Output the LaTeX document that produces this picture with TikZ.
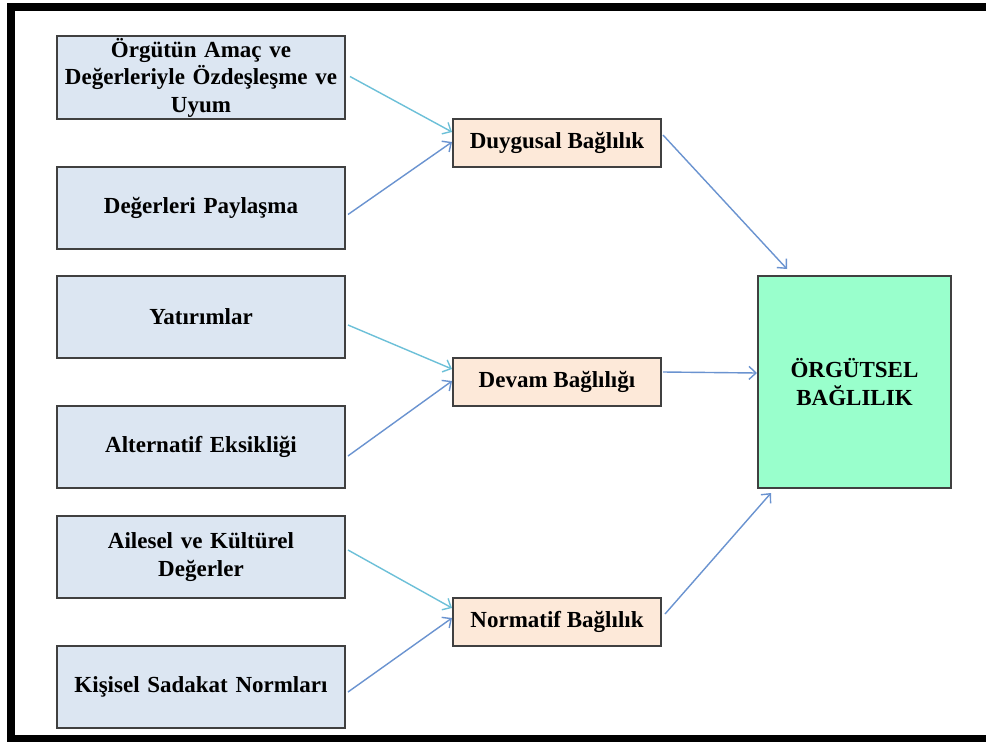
\documentclass[tikz,border=0pt]{standalone}
\usepackage{fontspec}
\setmainfont{Liberation Serif}
\usetikzlibrary{arrows.meta,calc}
\definecolor{leftfill}{HTML}{DCE6F2}
\definecolor{midfill}{HTML}{FDE9D9}
\definecolor{bigfill}{HTML}{99FFCC}
\definecolor{boxline}{HTML}{404040}
\definecolor{cyanarrow}{HTML}{6CC0D8}
\definecolor{bluearrow}{HTML}{6A93D0}
\tikzset{
  base/.style={draw=boxline, line width=2pt, align=center, inner sep=2pt,
    font=\fontsize{23}{27.5}\selectfont\bfseries},
  leftbox/.style={base, fill=leftfill, minimum width=288pt, minimum height=82pt, text width=284pt},
  midbox/.style={base, fill=midfill, minimum width=208pt, minimum height=48pt},
  bigbox/.style={base, fill=bigfill, minimum width=193pt, minimum height=212pt},
  conn/.style={line width=1.4pt, -{Straight Barb[length=7pt,width=13pt,line width=1.4pt]}},
  cyanconn/.style={conn, draw=cyanarrow},
  blueconn/.style={conn, draw=bluearrow}
}
\begin{document}
\begin{tikzpicture}[x=1pt,y=-1pt]
\useasboundingbox (0,0) rectangle (986,742);
\begin{scope}
\clip (0,0) rectangle (986,742);
\fill[white] (0,0) rectangle (986,742);
\draw[line width=8pt] (11,7) rectangle (1010,739);
\end{scope}

\node[leftbox] (b1) at (201,77.5) {Örgütün Amaç ve\\Değerleriyle Özdeşleşme ve\\Uyum};
\node[leftbox] (b2) at (201,207.5) {Değerleri Paylaşma};
\node[leftbox] (b3) at (201,317) {Yatırımlar};
\node[leftbox] (b4) at (201,447) {Alternatif Eksikliği};
\node[leftbox] (b5) at (201,557) {Ailesel ve Kültürel\\Değerler};
\node[leftbox] (b6) at (201,687) {Kişisel Sadakat Normları};

\node[midbox] (m1) at (557,143) {Duygusal Bağlılık};
\node[midbox] (m2) at (557,382) {Devam Bağlılığı};
\node[midbox] (m3) at (557,622) {Normatif Bağlılık};

\node[bigbox] (big) at (854.5,382) {ÖRGÜTSEL\\BAĞLILIK};

\draw[cyanconn] ($(b1.east)+(4,-1)$) -- ($(m1.west)+(0,-11)$);
\draw[blueconn] ($(b2.east)+(2,7)$) -- ($(m1.west)+(0,-1)$);
\draw[cyanconn] ($(b3.east)+(2,8)$) -- ($(m2.west)+(0,-13)$);
\draw[blueconn] ($(b4.east)+(2,9)$) -- ($(m2.west)+(0,-1)$);
\draw[cyanconn] ($(b5.east)+(2,-7)$) -- ($(m3.west)+(0,-14)$);
\draw[blueconn] ($(b6.east)+(2,5)$) -- ($(m3.west)+(0,-4)$);

\draw[blueconn] ($(m1.east)+(1,-8)$) -- ($(big.north west)+(30,-6)$);
\draw[blueconn] ($(m2.east)+(1,-10)$) -- ($(big.west)+(0,-9)$);
\draw[blueconn] ($(m3.east)+(3,-8)$) -- ($(big.south west)+(14,4)$);
\end{tikzpicture}
\end{document}
